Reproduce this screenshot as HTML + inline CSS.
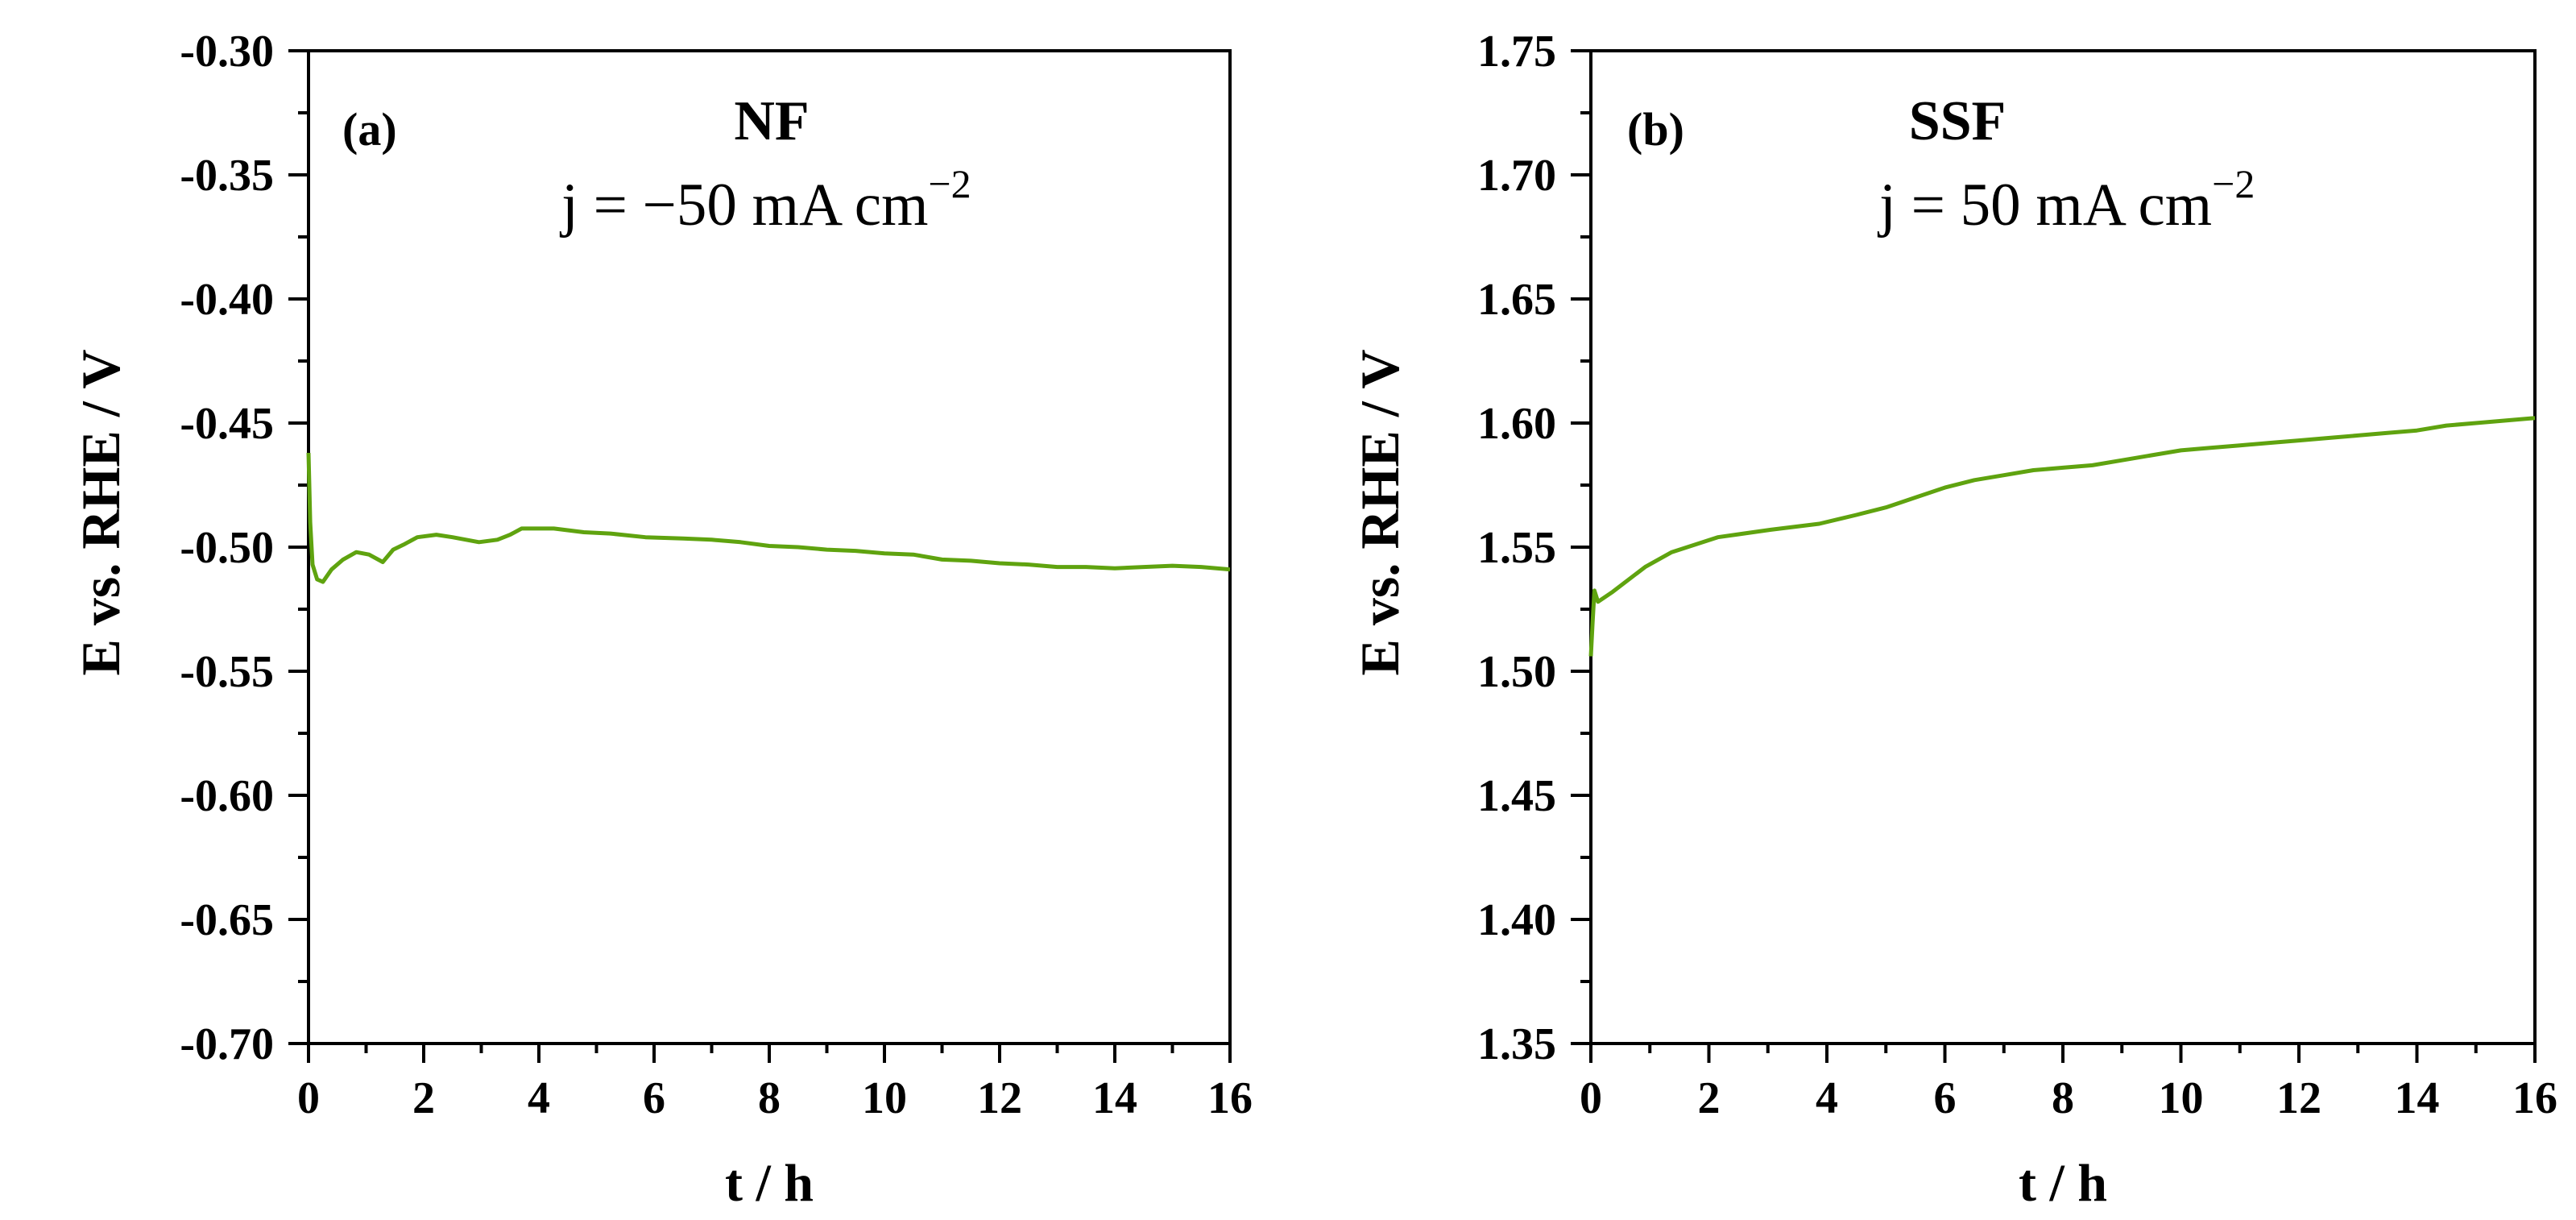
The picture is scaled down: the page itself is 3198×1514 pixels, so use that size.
<!DOCTYPE html>
<html><head><meta charset="utf-8"><style>
body{margin:0;background:#fff;}
svg{display:block;font-family:"Liberation Serif",serif;}
</style></head><body>
<svg id="chart" width="3198" height="1514" viewBox="0 0 3198 1514">
<g id="pa"></g>
<g id="pb"></g>
</svg>
<script>
const xTicks = [0,2,4,6,8,10,12,14,16];
const aYTicks = ["-0.30","-0.35","-0.40","-0.45","-0.50","-0.55","-0.60","-0.65","-0.70"];
const bYTicks = ["1.75","1.70","1.65","1.60","1.55","1.50","1.45","1.40","1.35"];
const aTime = [0,0.03,0.07,0.15,0.25,0.4,0.6,0.83,1.05,1.29,1.47,1.65,1.89,2.22,2.5,2.96,3.28,3.5,3.7,4.26,4.78,5.24,5.85,6.5,7,7.5,8,8.5,9,9.5,10,10.5,11,11.5,12,12.5,13,13.5,14,14.5,15,15.5,16];
const aVolt = [-0.462,-0.49,-0.507,-0.513,-0.514,-0.509,-0.505,-0.502,-0.503,-0.506,-0.501,-0.499,-0.496,-0.495,-0.496,-0.498,-0.497,-0.495,-0.4925,-0.4925,-0.494,-0.4945,-0.496,-0.4965,-0.497,-0.498,-0.4995,-0.5,-0.501,-0.5015,-0.5025,-0.503,-0.505,-0.5055,-0.5065,-0.507,-0.508,-0.508,-0.5085,-0.508,-0.5075,-0.508,-0.509];
const bTime = [0,0.03,0.06,0.12,0.37,0.92,1.37,2.15,3.05,3.87,4.5,5,5.5,6,6.5,7,7.5,8,8.5,9,9.5,10,10.5,11,11.5,12,12.5,13,13.5,14,14.5,15,15.5,16];
const bVolt = [1.506,1.52,1.5325,1.528,1.532,1.542,1.548,1.554,1.557,1.5594,1.563,1.566,1.570,1.574,1.577,1.579,1.581,1.582,1.583,1.585,1.587,1.589,1.590,1.591,1.592,1.593,1.594,1.595,1.596,1.597,1.599,1.600,1.601,1.602];
const NS="http://www.w3.org/2000/svg";
function mk(parent,tag,attrs,txt){const e=document.createElementNS(NS,tag);for(const k in attrs)e.setAttribute(k,attrs[k]);if(txt!==undefined)e.textContent=txt;parent.appendChild(e);return e;}
function panel(g,x0,x1,yMin,yMax,yTickLabels,times,volts,tag){
  const y0=63,y1=1295;
  const sx=t=>x0+(t/16)*(x1-x0);
  const sy=v=>y1-(v-yMin)/(yMax-yMin)*(y1-y0);
  const frame=mk(g,'rect',{x:x0,y:y0,width:x1-x0,height:y1-y0,fill:'none',stroke:'#000','stroke-width':4});
  
  
  for(let i=0;i<yTickLabels.length;i++){
    const v=parseFloat(yTickLabels[i]);const y=sy(v);
    const t=mk(g,'line',{x1:x0-25,x2:x0,y1:y,y2:y,stroke:'#000','stroke-width':4});
    
    
    const l=mk(g,'text',{x:x0-43,y:y+19,'text-anchor':'end','font-size':56,'font-weight':'bold'},yTickLabels[i]);
    
    
    if(i<yTickLabels.length-1){
      const ym=sy(v+(parseFloat(yTickLabels[i+1])-v)/2);
      const m=mk(g,'line',{x1:x0-13,x2:x0,y1:ym,y2:ym,stroke:'#000','stroke-width':4});
      
      
    }
  }
  for(let i=0;i<xTicks.length;i++){
    const x=sx(xTicks[i]);
    const t=mk(g,'line',{x1:x,x2:x,y1:y1,y2:y1+24,stroke:'#000','stroke-width':4});
    
    
    const l=mk(g,'text',{x:x,y:y1+86,'text-anchor':'middle','font-size':56,'font-weight':'bold'},String(xTicks[i]));
    
    
    if(i<xTicks.length-1){
      const xm=sx(xTicks[i]+1);
      const m=mk(g,'line',{x1:xm,x2:xm,y1:y1,y2:y1+12,stroke:'#000','stroke-width':4});
      
      
    }
  }
  let d='';
  for(let i=0;i<times.length;i++)d+=(i?'L':'M')+sx(times[i]).toFixed(1)+','+sy(volts[i]).toFixed(1);
  const p=mk(g,'path',{d:d,fill:'none',stroke:'#5fa30f','stroke-width':5,'stroke-linejoin':'round'});
  
  
  const xt=mk(g,'text',{x:(x0+x1)/2,y:1490,'text-anchor':'middle','font-size':66,'font-weight':'bold'},'t / h');
  
  
}
const pa=document.getElementById('pa'),pb=document.getElementById('pb');
panel(pa,383,1527,-0.70,-0.30,aYTicks,aTime,aVolt,'nf');
panel(pb,1975,3147,1.35,1.75,bYTicks,bTime,bVolt,'ssf');
function txt(g,name,attrs,content){const e=mk(g,'text',attrs);e.innerHTML=content;return e;}
txt(pa,'y-axis-title',{x:0,y:0,transform:'translate(148,636) rotate(-90)','text-anchor':'middle','font-size':68,'font-weight':'bold'},'E vs. RHE / V');
txt(pb,'y-axis-title',{x:0,y:0,transform:'translate(1736,636) rotate(-90)','text-anchor':'middle','font-size':68,'font-weight':'bold'},'E vs. RHE / V');
txt(pa,'panel-label-a',{x:425,y:180,'font-size':58,'font-weight':'bold'},'(a)');
txt(pb,'panel-label-b',{x:2020,y:180,'font-size':58,'font-weight':'bold'},'(b)');
txt(pa,'sample-title',{x:958,y:173,'text-anchor':'middle','font-size':70,'font-weight':'bold'},'NF');
txt(pb,'sample-title',{x:2430,y:173,'text-anchor':'middle','font-size':70,'font-weight':'bold'},'SSF');
txt(pa,'current-density-label',{x:697,y:279,'font-size':75},'j = −50 mA cm<tspan dy="-34" font-size="50">−2</tspan>');
txt(pb,'current-density-label',{x:2333,y:279,'font-size':75},'j = 50 mA cm<tspan dy="-34" font-size="50">−2</tspan>');
</script>
</body></html>
